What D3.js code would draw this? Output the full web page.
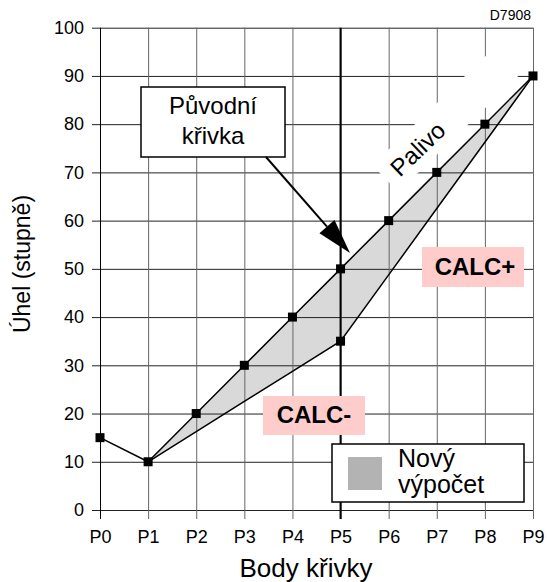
<!DOCTYPE html>
<html><head><meta charset="utf-8">
<script src="https://cdn.jsdelivr.net/npm/d3@7/dist/d3.min.js"></script>
<style>
html,body{margin:0;padding:0;background:#fff;}
svg{display:block;font-family:"Liberation Sans",Arial,Helvetica,sans-serif;}
</style></head>
<body>
<svg id="chart" width="547" height="582"></svg>
<script>
const categories = ["P0","P1","P2","P3","P4","P5","P6","P7","P8","P9"];
const originalCurve = [15,10,20,30,40,50,60,70,80,90];
const newCalcCurve = [null,10,16.25,22.5,28.75,35,48.75,62.5,76.25,90];
const newCalcMarkers = ["P5"];
const yTicks = [0,10,20,30,40,50,60,70,80,90,100];
const highlightCategory = "P5";

const svg = d3.select("#chart");
const x = d3.scalePoint().domain(categories).range([100,533]);
const y = d3.scaleLinear().domain([0,100]).range([510,27.7]);

// fill between curves
const band = categories.map((c,i)=>({c, lo:newCalcCurve[i], hi:originalCurve[i]})).filter(d=>d.lo!==null);
svg.append("path").datum(band)
  .attr("d", d3.area().x(d=>x(d.c)).y0(d=>y(d.lo)).y1(d=>y(d.hi)))
  .attr("fill","#d9d9d9");

// horizontal grid
const gy = svg.append("g").attr("transform","translate(92,0)")
  .call(d3.axisLeft(y).tickValues(yTicks).tickSize(-441).tickPadding(8).tickFormat(d3.format("d")));
gy.select(".domain").remove();
gy.selectAll("line").attr("stroke","#222").attr("stroke-width",1);
gy.selectAll("text").attr("font-size",18).attr("fill","#000").attr("font-family","Liberation Sans, Arial, sans-serif");

// vertical grid
const gx = svg.append("g").attr("transform","translate(0,519)")
  .call(d3.axisBottom(x).tickSize(-(519-y(100))).tickPadding(11));
gx.select(".domain").remove();
gx.selectAll("line").attr("stroke",d=>d==="P0"?"#000":"#666").attr("stroke-width",1);
gx.selectAll("text").attr("font-size",18).attr("fill","#000").attr("font-family","Liberation Sans, Arial, sans-serif");

// white band behind "Palivo"
const pal = svg.append("g").attr("transform","translate(418,152) rotate(-44)");
pal.append("rect").attr("x",-42).attr("y",-22).attr("width",170).attr("height",37).attr("fill","#fff");

// highlighted P5 line
svg.append("line").attr("x1",x(highlightCategory)).attr("x2",x(highlightCategory))
  .attr("y1",y(100)).attr("y2",519).attr("stroke","#000").attr("stroke-width",2);

// curves
const line = d3.line().defined(d=>d.v!==null).x(d=>x(d.c)).y(d=>y(d.v));
svg.append("path").datum(categories.map((c,i)=>({c,v:newCalcCurve[i]})))
  .attr("d",line).attr("fill","none").attr("stroke","#000").attr("stroke-width",1.5);
svg.append("path").datum(categories.map((c,i)=>({c,v:originalCurve[i]})))
  .attr("d",line).attr("fill","none").attr("stroke","#000").attr("stroke-width",1.5);

// markers
const ms = 9;
svg.append("g").selectAll("rect").data(categories.map((c,i)=>({c,v:originalCurve[i]})))
  .join("rect").attr("x",d=>x(d.c)-ms/2).attr("y",d=>y(d.v)-ms/2).attr("width",ms).attr("height",ms).attr("fill","#000");
svg.append("g").selectAll("rect").data(categories.map((c,i)=>({c,v:newCalcCurve[i]})).filter(d=>newCalcMarkers.includes(d.c)))
  .join("rect").attr("x",d=>x(d.c)-ms/2).attr("y",d=>y(d.v)-ms/2).attr("width",ms).attr("height",ms).attr("fill","#000");

// Palivo label
pal.append("text").attr("x",2).attr("y",6).attr("text-anchor","middle").attr("font-size",24).text("Palivo");

// callout
svg.append("rect").attr("x",141).attr("y",87).attr("width",144).attr("height",70)
  .attr("fill","#fff").attr("stroke","#000").attr("stroke-width",1.5);
svg.append("text").attr("x",213).attr("y",114).attr("text-anchor","middle").attr("font-size",24).text("Původní");
svg.append("text").attr("x",213).attr("y",144).attr("text-anchor","middle").attr("font-size",24).text("křivka");
const tip=[350,253], tail=[266,157];
const L=Math.hypot(tip[0]-tail[0],tip[1]-tail[1]);
const ux=(tip[0]-tail[0])/L, uy=(tip[1]-tail[1])/L;
const bx=tip[0]-35*ux, by=tip[1]-35*uy;
svg.append("line").attr("x1",tail[0]).attr("y1",tail[1]).attr("x2",bx).attr("y2",by).attr("stroke","#000").attr("stroke-width",2);
svg.append("path").attr("d",`M${tip[0]},${tip[1]}L${bx-10*uy},${by+10*ux}L${bx+10*uy},${by-10*ux}Z`).attr("fill","#000");

// CALC labels
svg.append("rect").attr("x",263).attr("y",396).attr("width",102).attr("height",39).attr("fill","#ffcccc");
svg.append("text").attr("x",314).attr("y",423).attr("text-anchor","middle").attr("font-size",24).attr("font-weight","bold").text("CALC-");
svg.append("rect").attr("x",422).attr("y",247).attr("width",102).attr("height",40).attr("fill","#ffcccc");
svg.append("text").attr("x",475).attr("y",275).attr("text-anchor","middle").attr("font-size",24).attr("font-weight","bold").text("CALC+");

// legend
svg.append("rect").attr("x",332).attr("y",444).attr("width",192).attr("height",58)
  .attr("fill","#fff").attr("stroke","#000").attr("stroke-width",1.5);
svg.append("rect").attr("x",348).attr("y",457).attr("width",34).attr("height",33).attr("fill","#b3b3b3");
svg.append("text").attr("x",398).attr("y",467).attr("font-size",25).text("Nový");
svg.append("text").attr("x",398).attr("y",493).attr("font-size",25).text("výpočet");

// titles
svg.append("text").attr("x",531).attr("y",20).attr("text-anchor","end").attr("font-size",14).text("D7908");
svg.append("text").attr("x",306).attr("y",577).attr("text-anchor","middle").attr("font-size",26).text("Body křivky");
svg.append("text").attr("transform","translate(30,264) rotate(-90)").attr("text-anchor","middle").attr("font-size",23).text("Úhel (stupně)");
</script>
</body></html>
